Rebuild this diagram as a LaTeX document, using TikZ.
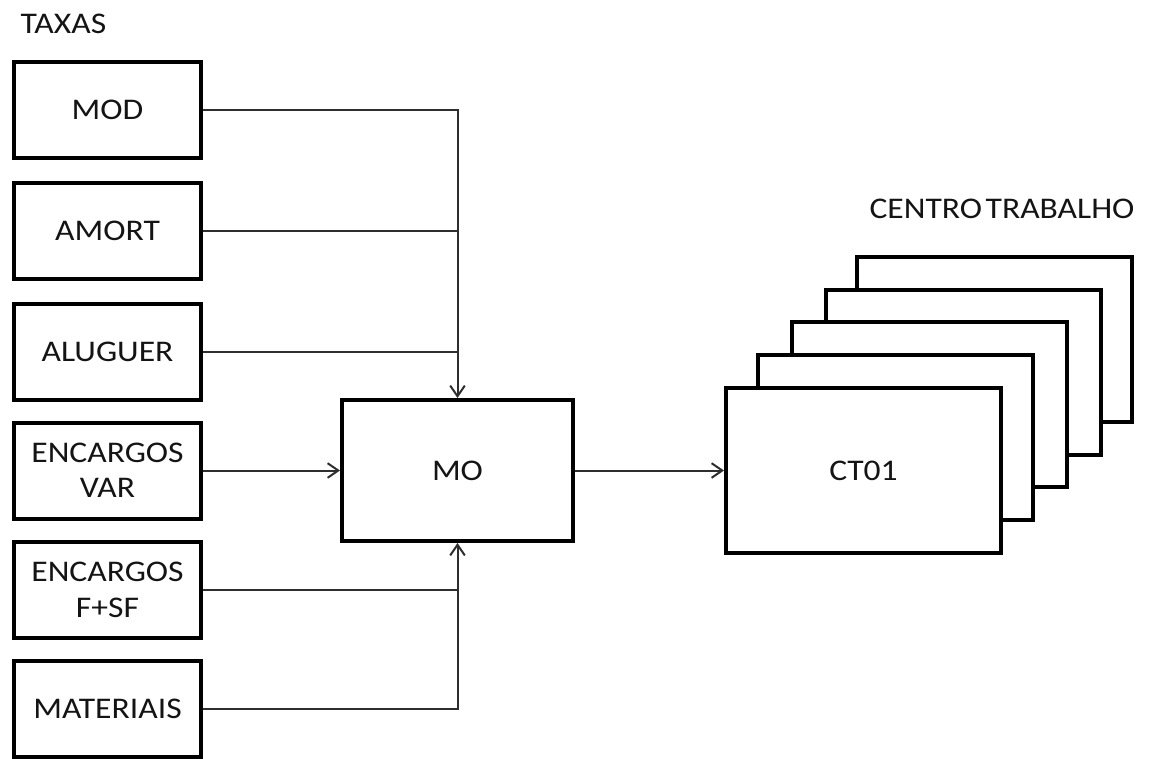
\documentclass[tikz,border=0pt]{standalone}
\usepackage{fontspec}
\setmainfont[FakeStretch=1.12]{Carlito}
\usetikzlibrary{arrows.meta}
\begin{document}
\begin{tikzpicture}[x=0.75pt,y=-0.75pt,
  label/.style={text=black!92,font=\fontsize{22.5}{26.5}\selectfont},
  inbox/.style={label,draw=black,line width=3pt,fill=white,align=center,
    minimum width=140.25pt,minimum height=72pt,inner sep=0pt},
  mobox/.style={label,draw=black,line width=3pt,fill=white,
    minimum width=173.25pt,minimum height=105.75pt,inner sep=0pt},
  ctbox/.style={label,draw=black,line width=3pt,fill=white,
    minimum width=206.25pt,minimum height=123.75pt,inner sep=0pt},
  conn/.style={draw=black!82,line width=1.5pt},
  tip/.style={-{Straight Barb[length=8pt,width=11pt]}}]
\useasboundingbox (0,0) rectangle (1153,758);

% titles
\node[label,anchor=west] (taxas) at (16,24) {TAXAS};
\node[label] (centro) at (1002,209) {CENTRO\hspace{0.12em}TRABALHO};

% input rates
\node[inbox] (mod)     at (107.5,109.5) {MOD};
\node[inbox] (amort)   at (107.5,230.5) {AMORT};
\node[inbox] (aluguer) at (107.5,351.5) {ALUGUER};
\node[inbox] (encvar)  at (107.5,470.5) {ENCARGOS\\VAR};
\node[inbox] (encfsf)  at (107.5,590)   {ENCARGOS\\F+SF};
\node[inbox] (mat)     at (107.5,708.5) {MATERIAIS};

% labour cost node
\node[mobox] (mo) at (457.5,470.5) {MO};

% stack of work centres, back to front
\node[ctbox] (ct5) at (994.5,339.5) {};
\node[ctbox] (ct4) at (963,372) {};
\node[ctbox] (ct3) at (929.5,404.5) {};
\node[ctbox] (ct2) at (895.5,437) {};
\node[ctbox] (ct1) at (863.5,470.5) {CT01};

% connectors from above
\draw[conn,tip] (mod.east) -| (mo.north);
\draw[conn] (amort.east) -- (amort.east -| mo.north);
\draw[conn] (aluguer.east) -- (aluguer.east -| mo.north);

% connector from the left
\draw[conn,tip] (encvar.east) -- (mo.west);

% connectors from below
\draw[conn,tip] (mat.east) -| (mo.south);
\draw[conn] (encfsf.east) -- (encfsf.east -| mo.south);

% output
\draw[conn,tip] (mo.east) -- (ct1.west);
\end{tikzpicture}
\end{document}
